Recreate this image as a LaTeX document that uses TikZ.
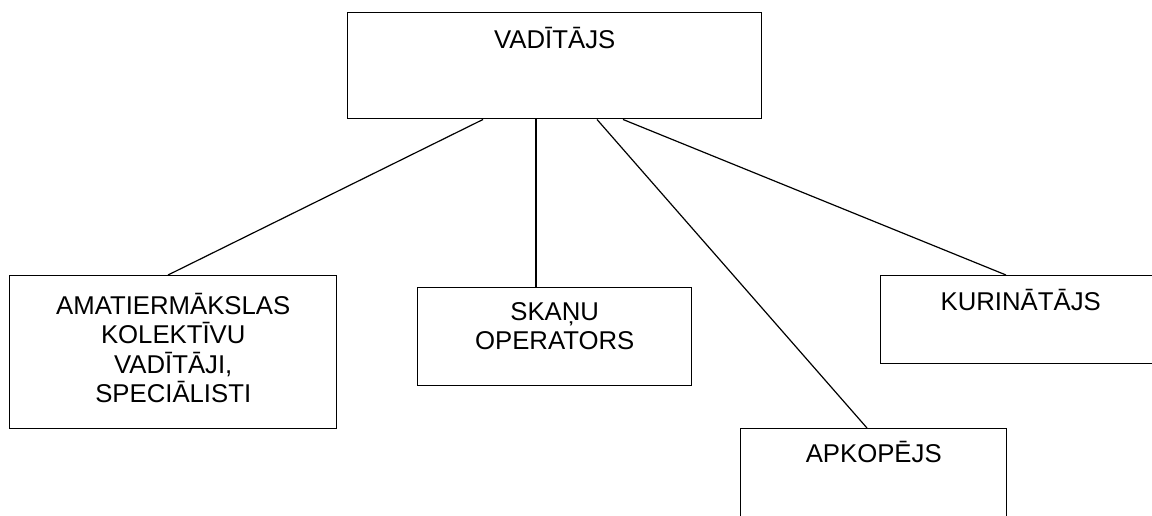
\documentclass[tikz,border=0pt]{standalone}
\usepackage{fontspec}
\setmainfont{Liberation Sans}
\usetikzlibrary{calc}
\begin{document}
\begin{tikzpicture}[x=0.75pt,y=-0.75pt,
  box/.style={draw=black,line width=1.1pt,rectangle,inner sep=0pt,anchor=north west,fill=none},
  lbl/.style={anchor=base,inner sep=0pt,align=center,text width=#1,
    font=\fontsize{19.3pt}{22.2pt}\selectfont},
  link/.style={draw=black,line width=0.9pt}]
\useasboundingbox (0,0) rectangle (1152,515);
% boxes
\node[box,minimum width=414*0.75pt,minimum height=106*0.75pt] (top) at (347,12) {};
\node[box,minimum width=327*0.75pt,minimum height=153*0.75pt] (left) at (9,275) {};
\node[box,minimum width=274*0.75pt,minimum height=98*0.75pt] (mid) at (417,287) {};
\node[box,minimum width=280*0.75pt,minimum height=88*0.75pt] (kur) at (880,275) {};
\node[box,minimum width=266*0.75pt,minimum height=110*0.75pt] (apk) at (740,428) {};
% labels
\node[lbl=300pt] (ttop) at ($(top.north)+(0,36)$) {VADĪTĀJS};
\node[lbl=240pt] (tleft) at ($(left.north)+(0,39)$) {AMATIERMĀKSLAS\\KOLEKTĪVU\\VADĪTĀJI,\\SPECIĀLISTI};
\node[lbl=200pt] (tmid) at ($(mid.north)+(0,33)$) {SKAŅU\\OPERATORS};
\node[lbl=200pt] (tkur) at ($(kur.north)+(0,35)$) {KURINĀTĀJS};
\node[lbl=200pt] (tapk) at ($(apk.north)+(0,34)$) {APKOPĒJS};
% connector end points
\coordinate (s1) at ($(top.south west)+(136,0)$);
\coordinate (s2) at ($(top.south west)+(189,0)$);
\coordinate (s3) at ($(top.south west)+(250,0)$);
\coordinate (s4) at ($(top.south west)+(276,0)$);
\coordinate (e1) at ($(left.north west)+(159,0)$);
\coordinate (e2) at ($(mid.north west)+(119,0)$);
\coordinate (e3) at ($(apk.north west)+(127,0)$);
\coordinate (e4) at ($(kur.north west)+(126,0)$);
\draw[link] (s1) -- (e1);
\draw[link] (s2) -- (e2);
\draw[link] (s3) -- (e3);
\draw[link] (s4) -- (e4);
\end{tikzpicture}
\end{document}
